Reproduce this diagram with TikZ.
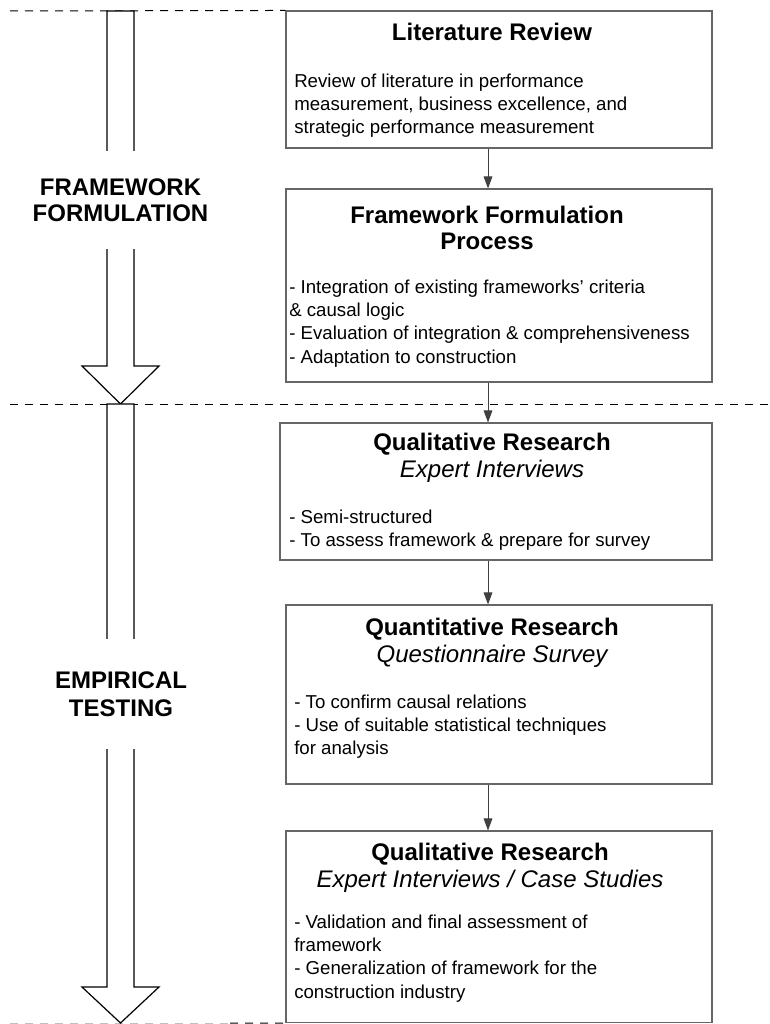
\documentclass[tikz,border=0pt]{standalone}
\usepackage{fontspec}
\setmainfont{Liberation Sans}
\usepackage{tikz}
\usetikzlibrary{arrows.meta}
\usetikzlibrary{positioning}

\tikzset{
	stagebox/.style={draw=black!60, line width=0.8pt, inner sep=0pt},
	stagetitle/.style={align=center, inner sep=0pt, font=\fontsize{18pt}{20.25pt}\selectfont},
	stagebody/.style={align=left, anchor=north west, inner sep=0pt, font=\fontsize{14pt}{17.5pt}\selectfont},
	phaselabel/.style={align=center, fill=white, inner sep=1pt, font=\fontsize{18pt}{19.5pt}\selectfont\bfseries},
	divider/.style={dash pattern=on 6pt off 5.25pt, line width=0.75pt},
	bigarrow/.style={draw=black, line width=0.9pt, fill=white}
}

\begin{document}
\begin{tikzpicture}[x=0.75pt, y=-0.75pt]
	\useasboundingbox (0,0) rectangle (770,1024);

	% phase dividers
	\draw[divider] (10,404) -- (770,404);

	% stage boxes
	\begin{scope}[every node/.style={stagebox, minimum width=319.5pt}]
		\node[minimum height=102.75pt] (lit) at (499,79.5) {};
		\node[minimum height=144.75pt] (ffp) at (499,285.5) {};
		\node[minimum width=324pt, minimum height=102.75pt] (qlt) at (496,491.5) {};
		\node[minimum height=134.25pt] (qnt) at (499,694.5) {};
		\node[minimum height=143.6pt] (cse) at (499,926.75) {};
	\end{scope}

	\draw[divider] (10,11) -- (lit.north west);
	\draw[divider, black!25] (10,1023) -- (230,1023);
	\draw[divider] (230,1023) -- (cse.south west);

	% titles
	\node[stagetitle] (littitle) at (492,32) {\bfseries Literature Review};
	\node[stagetitle, font=\fontsize{18pt}{19.5pt}\selectfont] (ffptitle) at (487,228)
		{\bfseries Framework Formulation\\\bfseries Process};
	\node[stagetitle] (qlttitle) at (492,458)
		{\bfseries Qualitative Research\\\itshape Expert Interviews};
	\node[stagetitle] (qnttitle) at (492,643)
		{\bfseries Quantitative Research\\\itshape Questionnaire Survey};
	\node[stagetitle] (csetitle) at (490,867.5)
		{\bfseries Qualitative Research\\\itshape Expert Interviews / Case Studies};

	% contents
	\node[stagebody] (litbody) at (294,73.5)
		{Review of literature in performance\\measurement, business excellence, and\\strategic performance measurement};
	\node[stagebody] (ffpbody) at (289,279.5)
		{- Integration of existing frameworks’ criteria\\\& causal logic\\- Evaluation of integration \& comprehensiveness\\- Adaptation to construction};
	\node[stagebody] (qltbody) at (289,509.5)
		{- Semi-structured\\- To assess framework \& prepare for survey};
	\node[stagebody] (qntbody) at (294,694.5)
		{- To confirm causal relations\\- Use of suitable statistical techniques\\for analysis};
	\node[stagebody] (csebody) at (294,914.5)
		{- Validation and final assessment of\\framework\\- Generalization of framework for the\\construction industry};

	% flow between stages
	\coordinate (flowx) at (488,0);
	\begin{scope}[>={Triangle[length=9pt, width=6.5pt]},
	              every edge/.style={draw=black!75, line width=0.75pt, ->}]
		\path (flowx |- lit.south) edge (flowx |- ffp.north);
		\path (flowx |- ffp.south) edge (flowx |- qlt.north);
		\path (flowx |- qlt.south) edge (flowx |- qnt.north);
		\path (flowx |- qnt.south) edge (flowx |- cse.north);
	\end{scope}

	% phase arrows
	\draw[bigarrow] (107,11) -- (134,11) -- (134,366) -- (159,366) -- (120.5,404) -- (82,366) -- (107,366) -- cycle;
	\draw[bigarrow] (107,404) -- (134,404) -- (134,987) -- (159,987) -- (120.5,1023) -- (82,987) -- (107,987) -- cycle;

	\node[phaselabel, minimum height=73.5pt] (formulation) at (120.5,200) {FRAMEWORK\\FORMULATION};
	\node[phaselabel, minimum height=82pt, font=\fontsize{18pt}{21pt}\selectfont\bfseries] (testing) at (121,694) {EMPIRICAL\\TESTING};
\end{tikzpicture}
\end{document}
